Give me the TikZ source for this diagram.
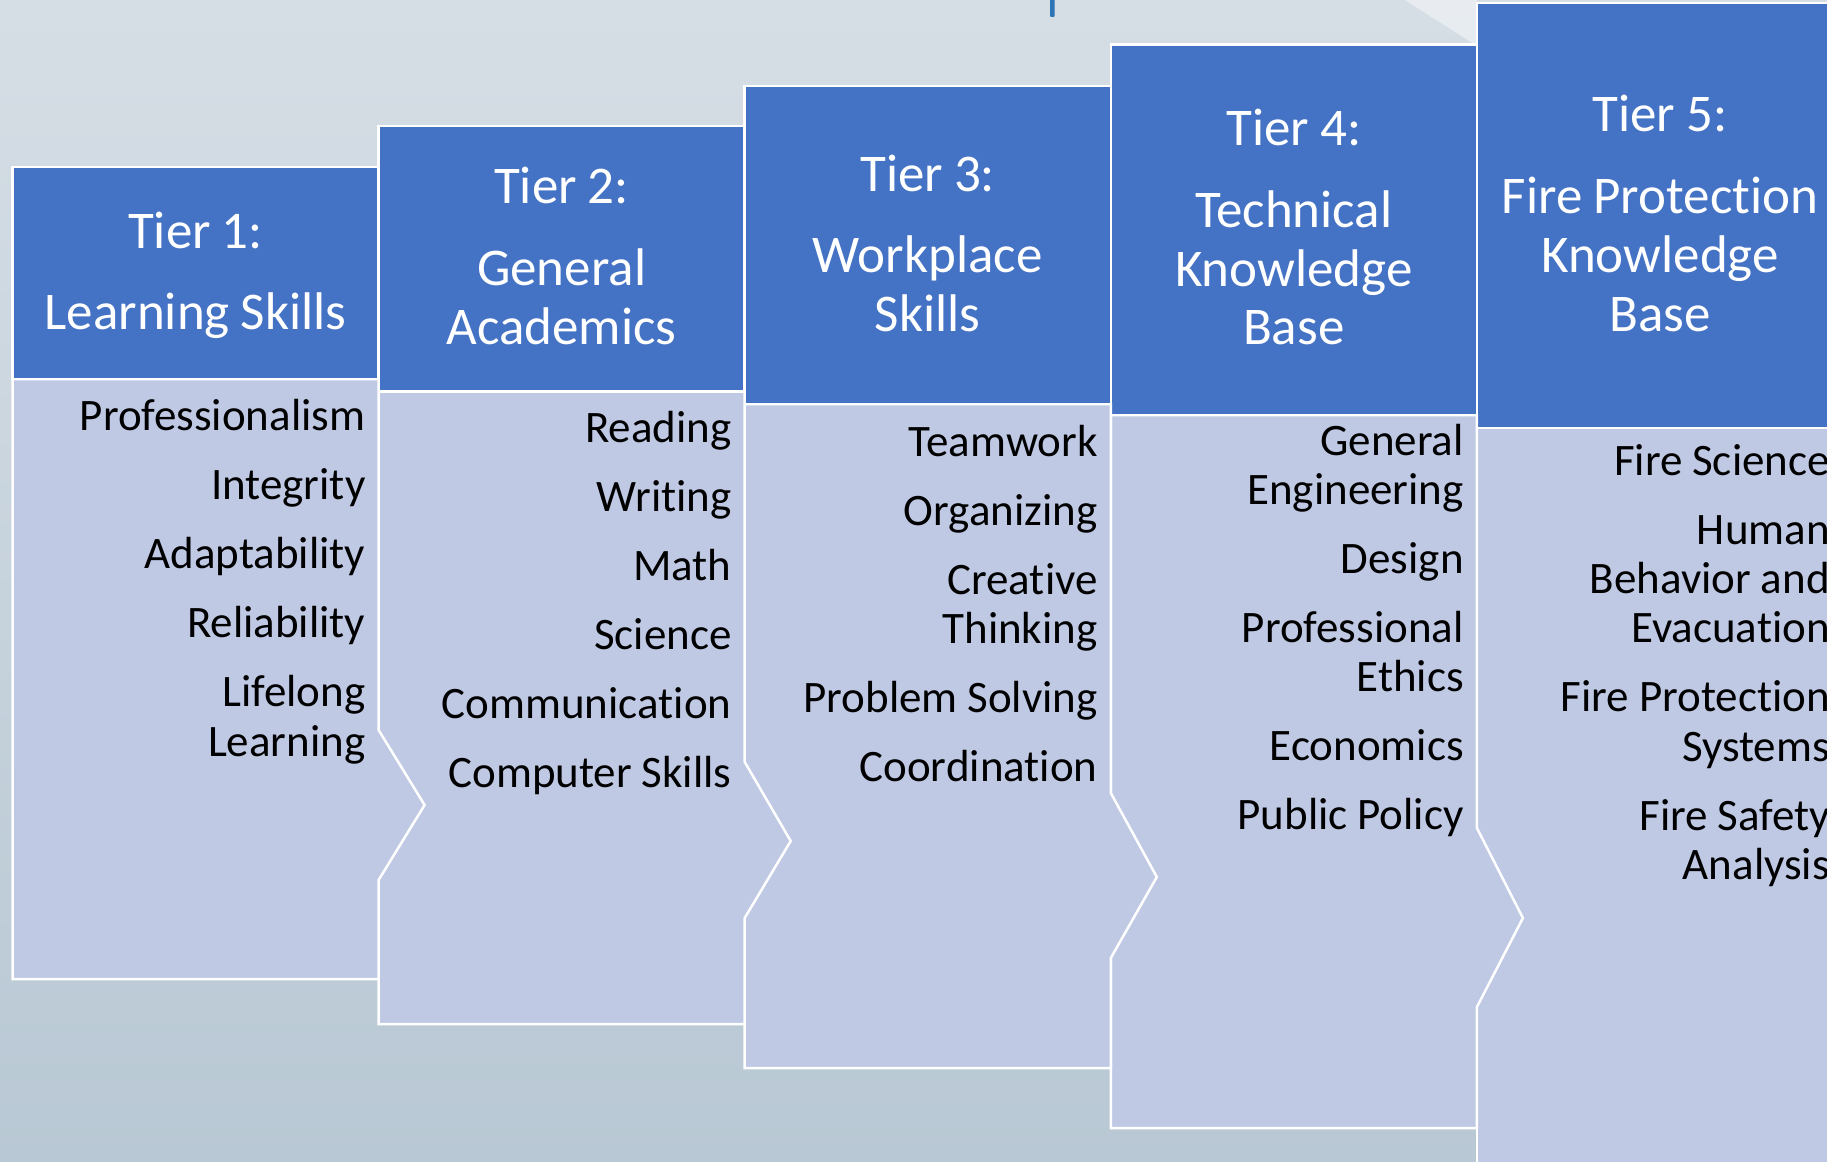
\documentclass[tikz,border=0pt]{standalone}
\usepackage{fontspec}
\setmainfont{Carlito}[Ligatures=NoCommon]
\definecolor{hdrblue}{RGB}{68,114,196}
\definecolor{bodyblue}{RGB}{191,201,228}
\definecolor{bgtop}{RGB}{214,222,229}
\definecolor{bgbot}{RGB}{184,200,212}
\definecolor{barblue}{RGB}{46,117,182}
\newcommand{\hdrspace}{\spaceskip=11pt\relax}
\newcommand{\bdyspace}{\spaceskip=9.7pt\relax}
\tikzset{
  hdrbox/.style={fill=hdrblue, draw=white, line width=2.5pt, line join=miter},
  bdybox/.style={fill=bodyblue, draw=white, line width=2.5pt, line join=miter},
  hdrtext/.style={text=white, font=\fontsize{53}{58.7}\selectfont, align=center,
    text width=366pt, inner sep=0pt, anchor=base, execute at begin node=\hdrspace},
  bdytext/.style={text=black, font=\fontsize{45}{49.4}\selectfont, align=right,
    text width=360pt, inner sep=0pt, anchor=base east, execute at begin node=\bdyspace},
}
\newcommand{\igap}{\\[19.6pt]}
\newcommand{\hgap}{\\[22.9pt]}
\begin{document}
\begin{tikzpicture}[x=1pt,y=-1pt]
\useasboundingbox (0,0) rectangle (1827,1161);
\clip (0,0) rectangle (1827,1161);
% background
\shade[top color=bgtop, bottom color=bgbot] (0,0) rectangle (1827,1161);
\fill[white, opacity=0.45] (1405,0) -- (1477,0) -- (1477,46) -- cycle;
\fill[barblue, rounded corners=1pt] (1050,-3) rectangle (1054.5,17);

% Tier 5
\path[bdybox] (1476.9,428) -- (1843,428) -- (1843,1200) -- (1476.9,1200) -- cycle;
\path[hdrbox] (1476.9,3) rectangle (1843,428);
% Tier 4
\path[bdybox] (1110.8,415) -- (1476.9,415) -- (1476.9,828) -- (1522.9,918) -- (1476.9,1007) -- (1476.9,1128) -- (1110.8,1128) -- cycle;
\path[hdrbox] (1110.8,44.5) rectangle (1476.9,415);
% Tier 3
\path[bdybox] (744.7,404) -- (1110.8,404) -- (1110.8,793) -- (1156.8,877) -- (1110.8,958) -- (1110.8,1068) -- (744.7,1068) -- cycle;
\path[hdrbox] (744.7,86) rectangle (1110.8,404);
% Tier 2
\path[bdybox] (378.6,391.5) -- (744.7,391.5) -- (744.7,762) -- (790.7,841) -- (744.7,918) -- (744.7,1024) -- (378.6,1024) -- cycle;
\path[hdrbox] (378.6,126) rectangle (744.7,391.5);
% Tier 1
\path[bdybox] (12.5,379) -- (378.6,379) -- (378.6,730) -- (424.6,805) -- (378.6,880) -- (378.6,979) -- (12.5,979) -- cycle;
\path[hdrbox] (12.5,167) rectangle (378.6,379);

% header texts
\node[hdrtext] (h1) at (195.5,248) {Tier 1:\hgap Learning Skills};
\node[hdrtext] (h2) at (561.6,204) {Tier 2:\hgap General\\Academics};
\node[hdrtext] (h3) at (927.7,191) {Tier 3:\hgap Workplace\\Skills};
\node[hdrtext] (h4) at (1293.8,146) {Tier 4:\hgap Technical\\Knowledge\\Base};
\node[hdrtext] (h5) at (1660,132) {Tier 5:\hgap Fire Protection\\Knowledge\\Base};

% body texts
\node[bdytext] (b1) at (365.6,430.7) {Professionalism\igap Integrity\igap Adaptability\igap Reliability\igap Lifelong\\Learning};
\node[bdytext] (b2) at (731.7,442.7) {Reading\igap Writing\igap Math\igap Science\igap Communication\igap Computer Skills};
\node[bdytext] (b3) at (1097.8,456) {Teamwork\igap Organizing\igap Creative\\Thinking\igap Problem Solving\igap Coordination};
\node[bdytext] (b4) at (1463.9,455) {General\\Engineering\igap Design\igap Professional\\Ethics\igap Economics\igap Public Policy};
\node[bdytext] (b5) at (1830,475) {Fire Science\igap Human\\Behavior and\\Evacuation\igap Fire Protection\\Systems\igap Fire Safety\\Analysis};
\end{tikzpicture}
\end{document}
